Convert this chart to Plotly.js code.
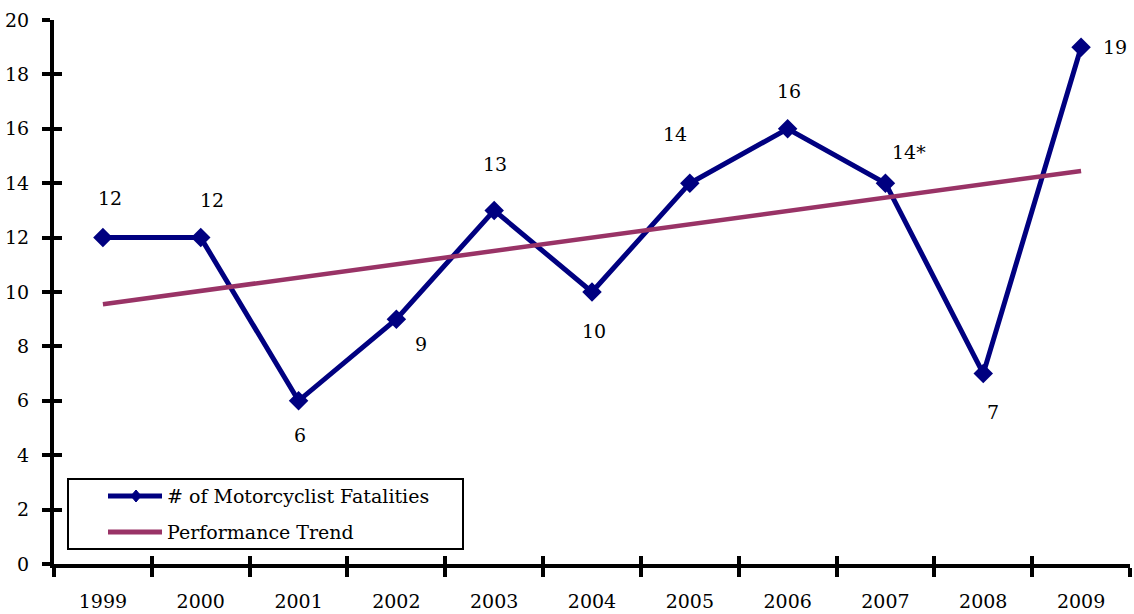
<!DOCTYPE html>
<html>
<head>
<meta charset="utf-8">
<script src="https://cdn.plot.ly/plotly-3.0.1.min.js"></script>
<style>html,body{margin:0;padding:0;background:#fff;}#chart{width:1134px;height:614px;}</style>
</head>
<body>
<div id="chart"></div>
<script>
var years = ["1999","2000","2001","2002","2003","2004","2005","2006","2007","2008","2009"];
var fatalities = [12, 12, 6, 9, 13, 10, 14, 16, 14, 7, 19];
var pointLabels = ["12","12","6","9","13","10","14","16","14*","7","19"];
var trendYears = ["1999", "2009"];
var trendValues = [9.55, 14.45];
var seriesNames = ["# of Motorcyclist Fatalities", "Performance Trend"];

var labelShiftX = [7, 11, 1, 25, 1, 2, -15, 1, 24, 10, 34];
var labelShiftY = [40, 38, -34, -25, 46, -39, 49, 38, 31, -38, 0];

var FONT = "DejaVu Serif";
var FS = 19;
var NAVY = "#000080";
var PLUM = "#993366";

var W = 1134, H = 614, ML = 54, MR = 4, MT = 20, MB = 50;
var PW = W - ML - MR, PH = H - MT - MB;
function px(x) { return (x - ML) / PW; }
function py(y) { return (H - MB - y) / PH; }

var traces = [
  {
    x: years, y: fatalities, type: "scatter", mode: "lines+markers",
    name: seriesNames[0],
    line: {color: NAVY, width: 5},
    marker: {symbol: "diamond", size: 15, color: NAVY},
    hoverinfo: "skip", showlegend: false
  },
  {
    x: trendYears, y: trendValues, type: "scatter", mode: "lines",
    name: seriesNames[1],
    line: {color: PLUM, width: 4.5},
    hoverinfo: "skip", showlegend: false
  },
  {
    x: [], y: [], xaxis: "x2", yaxis: "y2", type: "scatter", mode: "markers",
    showlegend: false, hoverinfo: "skip"
  }
];

var annotations = years.map(function (yr, i) {
  return {
    x: i, y: fatalities[i], xref: "x", yref: "y",
    text: pointLabels[i], showarrow: false,
    xshift: labelShiftX[i], yshift: labelShiftY[i],
    font: {family: FONT, size: FS, color: "#000"}
  };
});

// legend drawn as box, line samples and labels
var legendRows = [496, 532];
var legendColors = [NAVY, PLUM];
var shapes = [
  {type: "rect", xref: "paper", yref: "paper",
   x0: px(68), x1: px(463), y0: py(549), y1: py(479),
   line: {color: "#000", width: 2}, fillcolor: "#fff", layer: "above"}
];
legendRows.forEach(function (ry, i) {
  shapes.push({type: "line", xref: "paper", yref: "paper",
    x0: px(108), x1: px(162), y0: py(ry), y1: py(ry),
    line: {color: legendColors[i], width: 5}, layer: "above"});
  annotations.push({xref: "paper", yref: "paper", x: px(165), y: py(ry),
    xanchor: "left", yanchor: "middle", text: seriesNames[i], showarrow: false,
    font: {family: FONT, size: FS, color: "#000"}});
});
var dcx = 136, dcy = legendRows[0], dw = 5, dh = 6;
shapes.push({type: "path", xref: "paper", yref: "paper",
  path: "M" + px(dcx - dw) + "," + py(dcy) + " L" + px(dcx) + "," + py(dcy - dh) +
        " L" + px(dcx + dw) + "," + py(dcy) + " L" + px(dcx) + "," + py(dcy + dh) + " Z",
  fillcolor: NAVY, line: {color: NAVY, width: 1}, layer: "above"});

var layout = {
  width: W, height: H,
  margin: {l: ML, r: MR, t: MT, b: MB},
  paper_bgcolor: "#fff", plot_bgcolor: "#fff",
  font: {family: FONT, size: FS, color: "#000"},
  showlegend: false,
  xaxis: {
    type: "category", categoryarray: years, categoryorder: "array",
    range: [-0.5, 10.5],
    showline: true, linecolor: "#000", linewidth: 4,
    ticks: "outside", ticklen: 9, tickwidth: 4, tickcolor: "#000",
    tickson: "boundaries", showgrid: false, zeroline: false,
    ticklabelstandoff: 17,
    tickfont: {family: FONT, size: FS, color: "#000"}
  },
  xaxis2: {
    overlaying: "x", anchor: "y", range: [-0.5, 10.5],
    tick0: -0.5, dtick: 1, ticks: "inside", ticklen: 8, tickwidth: 4, tickcolor: "#000",
    showticklabels: false, showgrid: false, zeroline: false, showline: false
  },
  yaxis: {
    range: [0, 20], dtick: 2, tick0: 0,
    showline: true, linecolor: "#000", linewidth: 4,
    ticks: "outside", ticklen: 8, tickwidth: 4, tickcolor: "#000",
    showgrid: false, zeroline: false,
    ticklabelstandoff: 9,
    tickfont: {family: FONT, size: FS, color: "#000"}
  },
  yaxis2: {
    overlaying: "y", anchor: "x", side: "left", range: [0, 20],
    tick0: 0, dtick: 2, ticks: "inside", ticklen: 8, tickwidth: 4, tickcolor: "#000",
    showticklabels: false, showgrid: false, zeroline: false, showline: false
  },
  shapes: shapes,
  annotations: annotations
};

Plotly.newPlot("chart", traces, layout, {displayModeBar: false, staticPlot: true});
</script>
</body>
</html>
